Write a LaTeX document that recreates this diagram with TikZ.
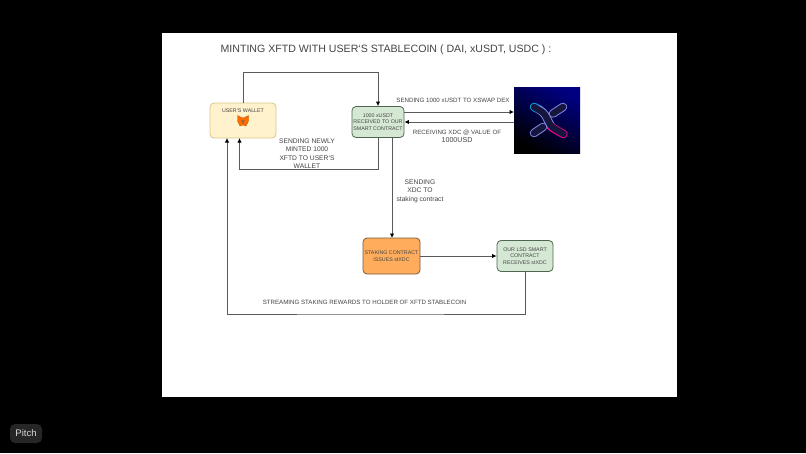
\documentclass[tikz,border=0pt]{standalone}
\usepackage{fontspec}
\setmainfont{Liberation Sans}
\usetikzlibrary{arrows.meta}
\definecolor{walletfill}{HTML}{FFF2CC}
\definecolor{walletline}{HTML}{D9C58A}
\definecolor{greenfill}{HTML}{D5E8D4}
\definecolor{greenline}{HTML}{4F6650}
\definecolor{stakefill}{HTML}{FFAD5C}
\definecolor{stakeline}{HTML}{7A5A3A}
\definecolor{textgray}{HTML}{444444}
\definecolor{linegray}{HTML}{5A5A5A}
\definecolor{logoband}{HTML}{16163C}
\definecolor{logoarm}{HTML}{7F86E0}
\tikzset{
  flow/.style={draw=linegray,line width=0.9pt,-{Latex[length=4.5pt,width=4.5pt,black]}},
  plainbox/.style={rounded corners=4pt,line width=0.8pt,align=center,inner sep=0pt,text=textgray},
  label/.style={text=textgray,align=center,inner sep=0pt},
  tiny/.style={font=\fontsize{5.3}{6.5}\selectfont},
  mid/.style={font=\fontsize{6.7}{8.4}\selectfont},
  wide/.style={font=\fontsize{6.15}{7}\selectfont},
  bandout/.style={line width=8.5pt,line cap=round,line join=round,rounded corners=3pt},
  bandin/.style={line width=6.5pt,line cap=round,line join=round,rounded corners=3pt,draw=logoband},
}
\begin{document}
\begin{tikzpicture}[x=1pt,y=-1pt]
        \useasboundingbox (0,0) rectangle (806,453);
        \fill[black] (0,0) rectangle (806,453);
        \fill[white] (162,33) rectangle (677,397);
        % badge bottom left
        \node[fill=black!85!white,rounded corners=5pt,minimum width=32pt,minimum height=19pt,inner sep=0pt,
              text=white!85!black,font=\fontsize{9.5}{10}\selectfont] (badge) at (26,433.5) {Pitch};
        % title
        \node[label,font=\fontsize{10.6}{14}\selectfont] (title) at (386,49.5) {MINTING XFTD WITH USER`S STABLECOIN ( DAI, xUSDT, USDC ) :};
        % boxes
        \node[plainbox,draw=walletline,fill=walletfill,minimum width=66pt,minimum height=35pt] (wallet) at (243,120.5) {};
        \node[label,tiny] (walletlabel) at (243,111) {USER`S WALLET};
        \node[plainbox,tiny,draw=greenline,fill=greenfill,minimum width=52pt,minimum height=31pt] (contract) at (378,122) {1000 xUSDT\\RECEIVED TO OUR\\SMART CONTRACT};
        \node[plainbox,tiny,draw=stakeline,fill=stakefill,minimum width=57pt,minimum height=36pt] (staking) at (391.5,256) {STAKING CONTRACT\\ISSUES stXDC};
        \node[plainbox,tiny,draw=greenline,fill=greenfill,minimum width=56pt,minimum height=31pt] (lsd) at (525,256) {OUR LSD SMART\\CONTRACT\\RECEIVES stXDC};
        \node[minimum width=66pt,minimum height=66pt,inner sep=0pt,left color=blue!50!black,right color=black,shading angle=-30] (logo) at (547,120) {};
        % fox
        \filldraw[fill=orange!85!red,draw=orange!70!black,line width=0.3pt] (237.5,115.5) -- (241.5,117.5) -- (244.5,117.5) -- (248.5,115.5) -- (248.5,121) -- (246,126) -- (243,125) -- (240,126) -- (237.5,121) -- cycle;
        \fill[brown!80!black] (241.5,120) -- (244.5,120) -- (243,125) -- cycle;
        % logo x
        \draw[bandout,draw=logoarm] (563,107) -- (553,113.5);
        \draw[bandout,draw=logoarm] (534,133) -- (543,127);
        \draw[bandin] (563,107) -- (553,113.5);
        \draw[bandin] (534,133) -- (543,127);
        \draw[bandout,draw=cyan!80!blue] (534,107) -- (539,109.5);
        \draw[bandout,draw=logoarm] (539,109.5) -- (544,113) -- (551.5,127);
        \draw[bandout,draw=magenta] (551.5,127) -- (556,130) -- (563.5,134);
        \draw[bandin] (534,107) -- (544,113) -- (551.5,127) -- (563.5,134);
        % connectors
        \coordinate (topin) at (243,72);
        \coordinate (walletback) at (239.5,138);
        \coordinate (walletreward) at (227,138);
        \coordinate (contractout) at (392,137);
        \coordinate (stakein) at (392,238);
        \coordinate (sendfrom) at (404,112);
        \coordinate (sendto) at (514,112);
        \coordinate (recvfrom) at (514,122);
        \draw[flow] (wallet.north) |- (topin) -| (contract.north);
        \draw[flow] (contract.south) -- ++(0,32) -| (walletback);
        \draw[flow] (sendfrom) -- (sendto);
        \draw[flow] (recvfrom) -- (contract.east);
        \draw[flow] (contractout) -- (stakein);
        \draw[flow] (staking.east) -- (lsd.west);
        \draw[flow] (lsd.south) |- (365,314) -| (walletreward);
        % labels
        \node[label,wide] (sendlabel) at (453,100.8) {SENDING 1000 xUSDT TO XSWAP DEX};
        \node[label,wide] (recvlabel) at (457,132.5) {RECEIVING XDC @ VALUE OF};
        \node[label,font=\fontsize{7.1}{8}\selectfont] (recvusd) at (457,140.5) {1000USD};
        \node[label,mid] (mintlabel) at (307,153.6) {SENDING NEWLY\\MINTED 1000\\XFTD TO USER`S\\WALLET};
        \node[label,mid] (xdclabel) at (420,191.3) {SENDING\\XDC TO\\staking contract};
        \node[label,wide] (rewardlabel) at (364.5,302.7) {STREAMING STAKING REWARDS TO HOLDER OF XFTD STABLECOIN};
\end{tikzpicture}
\end{document}
